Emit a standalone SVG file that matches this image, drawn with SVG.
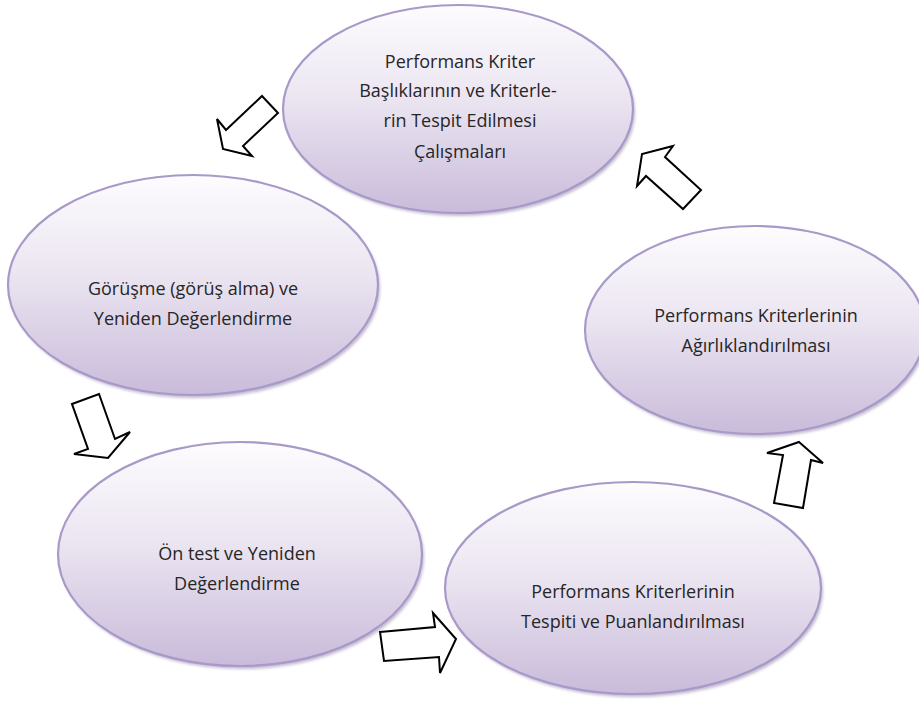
<svg xmlns="http://www.w3.org/2000/svg" width="919" height="704" viewBox="0 0 919 704">
<style>
.el{fill:url(#g);stroke:#a899c9;stroke-width:2.2}
.sh{fill:#8e7fa8;opacity:0.55;filter:url(#b)}
.t{font-family:"Open Sans","Liberation Sans",sans-serif;font-size:18px;fill:#262626;text-anchor:middle}
.ar{fill:#fff;stroke:#000;stroke-width:2;stroke-linejoin:miter}
</style>
<defs>
<linearGradient id="g" x1="0" y1="0" x2="0" y2="1">
<stop offset="0" stop-color="#fdfcfe"/>
<stop offset="0.45" stop-color="#ebe5f1"/>
<stop offset="1" stop-color="#c9bbda"/>
</linearGradient>
<filter id="b" x="-10%" y="-10%" width="120%" height="120%"><feGaussianBlur stdDeviation="1.5"/></filter>
</defs>
<rect width="919" height="704" fill="#fff"/>
<g id="n1">
<ellipse class="sh" cx="460" cy="112" rx="175" ry="104"/>
<ellipse class="el" cx="458" cy="109" rx="175" ry="104"/>
<text class="t" x="460" y="68">Performans Kriter</text>
<text class="t" x="458" y="97">Başlıklarının ve Kriterle-</text>
<text class="t" x="460" y="127">rin Tespit Edilmesi</text>
<text class="t" x="460" y="158">Çalışmaları</text>
</g>
<g id="n2">
<ellipse class="sh" cx="195" cy="288" rx="185" ry="110"/>
<ellipse class="el" cx="193" cy="285" rx="185" ry="110"/>
<text class="t" x="193" y="295">Görüşme (görüş alma) ve</text>
<text class="t" x="193" y="325">Yeniden Değerlendirme</text>
</g>
<g id="n3">
<ellipse class="sh" cx="242" cy="557" rx="182" ry="112"/>
<ellipse class="el" cx="240" cy="554" rx="182" ry="112"/>
<text class="t" x="237" y="560">Ön test ve Yeniden</text>
<text class="t" x="237" y="590">Değerlendirme</text>
</g>
<g id="n4">
<ellipse class="sh" cx="635" cy="591" rx="188" ry="106"/>
<ellipse class="el" cx="633" cy="588" rx="188" ry="106"/>
<text class="t" x="633" y="598">Performans Kriterlerinin</text>
<text class="t" x="633" y="628">Tespiti ve Puanlandırılması</text>
</g>
<g id="n5">
<ellipse class="sh" cx="757" cy="333" rx="170" ry="104"/>
<ellipse class="el" cx="755" cy="330" rx="170" ry="104"/>
<text class="t" x="756" y="322">Performans Kriterlerinin</text>
<text class="t" x="756" y="352">Ağırlıklandırılması</text>
</g>
<g id="connectors">
<polygon class="ar" points="262,96 278,113 243,146 252,156 223,149 217,119 226,130"/>
<polygon class="ar" points="673,146 665,157 701,190 683,209 646,176 637,186 642,154"/>
<polygon class="ar" points="72,404 99,394 115,439 130,432 108,458 74,454 88,449"/>
<polygon class="ar" points="380,632 435,627 433,613 456,639 440,673 439,657 384,661"/>
<polygon class="ar" points="799,442 823,463 811,460 803,508 774,503 783,455 767,453"/>
</g>
</svg>
